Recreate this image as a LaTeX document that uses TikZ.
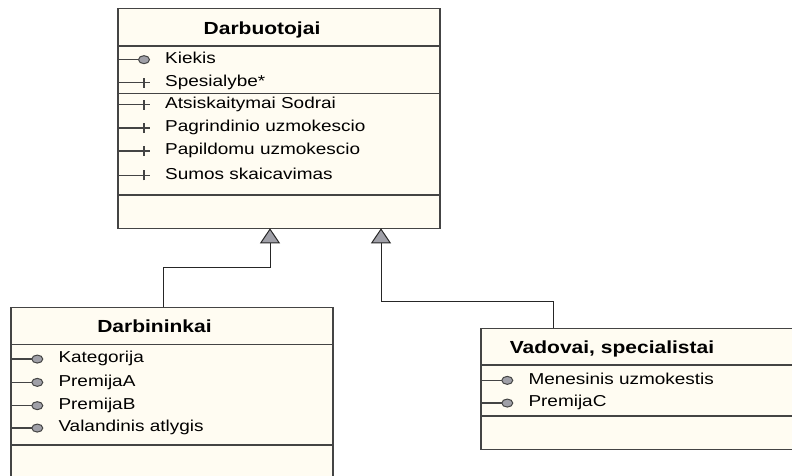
\documentclass[tikz,border=0pt]{standalone}
\usepackage{fontspec}
\setmainfont{Liberation Sans}[FakeStretch=1.2]
\usetikzlibrary{arrows.meta}
\definecolor{classfill}{HTML}{FFFCF2}
\definecolor{classline}{HTML}{444444}
\definecolor{markgray}{HTML}{A0A0A8}

\begin{document}
\begin{tikzpicture}[x=1pt, y=-1pt, >={Triangle[length=15pt, width=20pt, fill=markgray]},
  every class/.style={draw=classline, fill=classfill, line width=1.3pt, anchor=north west, inner sep=0pt, outer sep=0pt},
  class title/.style={anchor=base, inner sep=0pt, font=\fontsize{17.5pt}{20pt}\selectfont\bfseries},
  member/.style={anchor=base west, inner sep=0pt, font=\fontsize{15.8pt}{19pt}\selectfont},
  member line/.style={draw=classline, line width=1.2pt},
  member dot/.style={draw=classline, fill=markgray, line width=1pt},
  inherit/.style={->, draw=black!85, line width=1pt}]

\useasboundingbox (0,0) rectangle (792,475);

% classes
\node [every class, minimum width=322pt, minimum height=220pt] (darbuotojai) at (118,8.3) {};
\node [every class, minimum width=322pt, minimum height=170pt] (darbininkai) at (11,307.3) {};
\node [every class, minimum width=330pt, minimum height=121pt] (vadovai) at (481,328.3) {};

\foreach \c/\d in {darbuotojai/37.7, darbuotojai/85, darbuotojai/186.7,
                   darbininkai/37, darbininkai/137.7, vadovai/36.7, vadovai/87.7}
  \draw [member line, line width=1.3pt] ([yshift=-\d]\c.north west) -- ([yshift=-\d]\c.north east);

\node [class title] (darbuotojai-title) at (262,34.3) {Darbuotojai};
\node [class title] (darbininkai-title) at (154.5,332.3) {Darbininkai};
\node [class title] (vadovai-title) at (612,353) {Vadovai, specialistai};

% attributes
\foreach \c/\t/\x/\y [count=\i] in {darbuotojai/Kiekis/165/63.3,
    darbininkai/Kategorija/58.3/362.7, darbininkai/PremijaA/58.3/386,
    darbininkai/PremijaB/58.3/409.3, darbininkai/Valandinis atlygis/58.3/431.7,
    vadovai/Menesinis uzmokestis/528.3/384, vadovai/PremijaC/528.3/406.7} {
  \node [member] (attr-\i) at (\x,\y) {\t};
  \coordinate (row) at ([yshift=1pt]attr-\i.mid west);
  \draw [member line] (\c.west |- row) -- ([xshift=-24pt]row);
  \draw [member dot] ([xshift=-21pt]row) ellipse [x radius=5.5pt, y radius=4pt];
}

% operations
\foreach \t/\y [count=\i] in {Spesialybe*/86.5, Atsiskaitymai Sodrai/108.3,
    Pagrindinio uzmokescio/131.7, Papildomu uzmokescio/154.7, Sumos skaicavimas/179} {
  \node [member] (oper-\i) at (165,\y) {\t};
  \coordinate (row) at ([yshift=1pt]oper-\i.mid west);
  \draw [member line] (darbuotojai.west |- row) -- ([xshift=-15pt]row)
    ([xshift=-21pt,yshift=-5pt]row) -- ([xshift=-21pt,yshift=5pt]row);
}

% generalisation
\draw [inherit] ([xshift=-9pt]darbininkai.north) |- ([xshift=-9pt,yshift=-39pt]darbuotojai.south)
  -- ([xshift=-9pt]darbuotojai.south);
\draw [inherit] ([xshift=-92.5pt]vadovai.north) |- ([xshift=102pt,yshift=-73pt]darbuotojai.south)
  -- ([xshift=102pt]darbuotojai.south);
\end{tikzpicture}
\end{document}
